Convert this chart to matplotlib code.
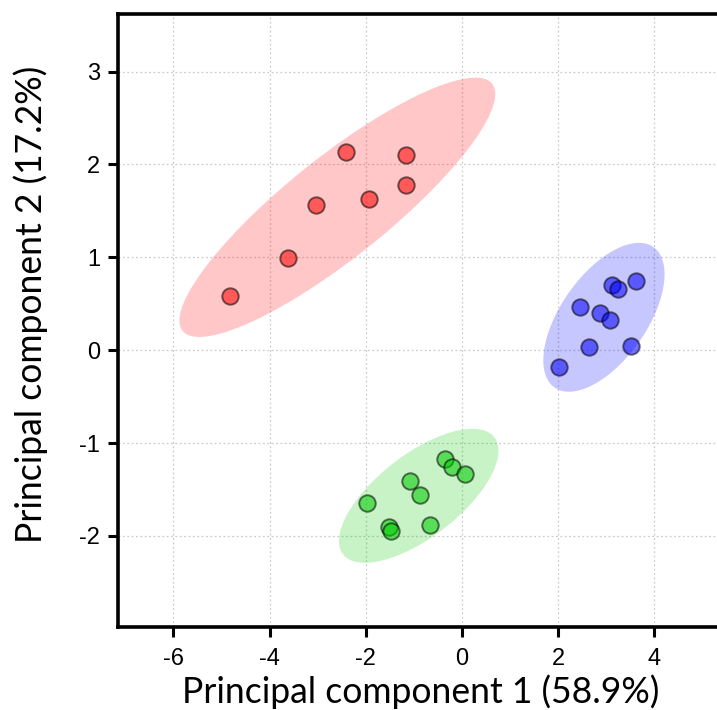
import matplotlib
matplotlib.use("Agg")
import matplotlib.pyplot as plt
import matplotlib.transforms as transforms
import numpy as np
from matplotlib.patches import Ellipse


# PCA scores, one group per colour
red_pc1 = [-4.82, -3.62, -3.04, -1.93, -2.41, -1.16, -1.16]
red_pc2 = [0.58, 0.99, 1.56, 1.63, 2.13, 2.10, 1.78]

blue_pc1 = [2.02, 2.63, 3.51, 2.45, 2.87, 3.08, 3.12, 3.25, 3.62]
blue_pc2 = [-0.18, 0.03, 0.05, 0.46, 0.40, 0.33, 0.70, 0.66, 0.74]

green_pc1 = [-1.98, -1.52, -1.48, -1.08, -0.87, -0.67, -0.35, -0.21, 0.06]
green_pc2 = [-1.65, -1.90, -1.95, -1.41, -1.56, -1.88, -1.17, -1.26, -1.33]

xticks = [-6, -4, -2, 0, 2, 4]
yticks = [-2, -1, 0, 1, 2, 3]
xlabel = "Principal component 1 (58.9%)"
ylabel = "Principal component 2 (17.2%)"

N_STD = 2.4477  # 95% confidence ellipse


def confidence_ellipse(x, y, ax, n_std, **kwargs):
    x = np.asarray(x)
    y = np.asarray(y)
    cov = np.cov(x, y)
    pearson = cov[0, 1] / np.sqrt(cov[0, 0] * cov[1, 1])
    rx = np.sqrt(1 + pearson)
    ry = np.sqrt(1 - pearson)
    ell = Ellipse((0, 0), width=rx * 2, height=ry * 2, **kwargs)
    sx = np.sqrt(cov[0, 0]) * n_std
    sy = np.sqrt(cov[1, 1]) * n_std
    tr = (transforms.Affine2D().rotate_deg(45).scale(sx, sy)
          .translate(x.mean(), y.mean()))
    ell.set_transform(tr + ax.transData)
    return ax.add_patch(ell)


plt.rcParams.update({
    "font.family": ["Liberation Sans", "DejaVu Sans"],
    "xtick.labelsize": 17,
    "ytick.labelsize": 17,
})

fig = plt.figure(figsize=(7.17, 7.10), dpi=100)
ax = fig.add_axes([0.1646, 0.1169, 0.8354, 0.8634])

groups = [
    (red_pc1, red_pc2, "#ff0000"),
    (blue_pc1, blue_pc2, "#0000ff"),
    (green_pc1, green_pc2, "#00cc00"),
]
for xs, ys, col in groups:
    confidence_ellipse(xs, ys, ax, N_STD, facecolor=col, alpha=0.22,
                       edgecolor="none", zorder=1)
    ax.scatter(xs, ys, s=140, facecolor=col, alpha=0.55,
               edgecolor="black", linewidths=1.4, zorder=3)

ax.set_xlim(-7.15, 5.3)
ax.set_ylim(-2.98, 3.62)
ax.set_xticks(xticks, [str(t) for t in xticks])
ax.set_yticks(yticks, [str(t) for t in yticks])
ax.tick_params(direction="out", length=7, width=2.2, colors="black")
ax.tick_params(axis="x", pad=8)
ax.tick_params(axis="y", pad=6)

ax.grid(True, color="#cccccc", linestyle=(0, (1.5, 2)), linewidth=0.9, zorder=0)
ax.set_axisbelow(True)

for side in ("left", "bottom", "top"):
    ax.spines[side].set_linewidth(2.6)
    ax.spines[side].set_color("black")
ax.spines["right"].set_visible(False)

ax.set_xlabel(xlabel, fontsize=25.6, family="Lato")
ax.set_ylabel(ylabel, fontsize=25.6, family="Lato")
ax.xaxis.set_label_coords(0.505, -0.078)
ax.yaxis.set_label_coords(-0.117, 0.527)

fig.savefig("out.png", dpi=100)
